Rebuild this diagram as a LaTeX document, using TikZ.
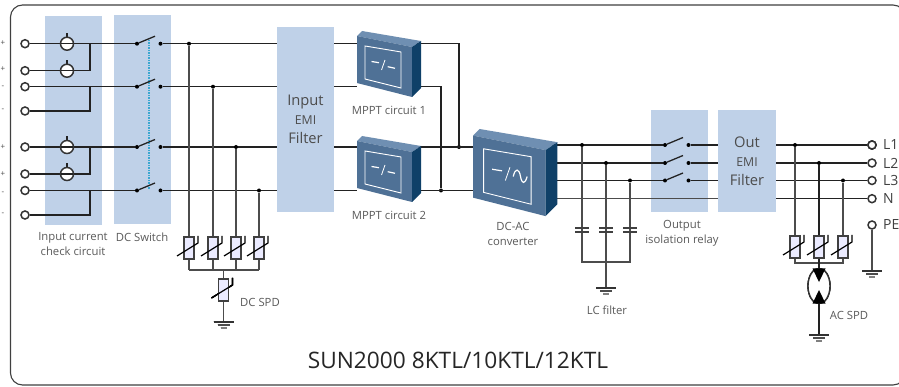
\documentclass[tikz,border=0pt]{standalone}
\usepackage{fontspec}
\setmainfont{Open Sans}
\usetikzlibrary{calc}
\definecolor{panelblue}{HTML}{BFD1E8}
\definecolor{boxface}{HTML}{4F7196}
\definecolor{boxside}{HTML}{0F4068}
\definecolor{boxtop}{HTML}{6F8FB2}
\definecolor{wirecol}{HTML}{222222}
\definecolor{textgray}{HTML}{5A5A5A}
\definecolor{dashblue}{HTML}{3AA6D0}
\tikzset{
    panel/.style = {fill=panelblue,draw=none,inner sep=0pt,align=center},
    wire/.style = {-,line width=1.3pt,wirecol},
    wireg/.style = {-,line width=1.5pt,black!70},
    term/.style = {circle,draw=black!80,line width=1.5pt,fill=white,minimum size=8pt,inner sep=0pt},
    dotn/.style = {circle,fill=black,minimum size=4pt,inner sep=0pt},
    lbl/.style = {font=\fontsize{11.3}{15}\selectfont,text=textgray,align=center,inner sep=0pt},
    portlbl/.style = {font=\fontsize{14}{14}\selectfont,text=black!75,inner sep=0pt,anchor=west},
    signlbl/.style = {font=\fontsize{8}{8}\selectfont,text=black!70,inner sep=0pt},
    filt/.style = {font=\fontsize{14.7}{19}\selectfont,text=black!70},
    glyph/.style = {white,line width=1.2pt},
    every picture/.style={x=1pt,y=-1pt}
}
\newcommand{\emifont}{\fontsize{12.3}{19}\selectfont}
% current sensor on a wire
\newcommand{\sensor}[2]{
\draw[wire] (#1,#2) -- (#1,#2-11);
\draw[line width=1.5pt,black!80,fill=white] (#1,#2) circle (6.5pt);
\draw[wire] (#1-6,#2) -- (#1+6,#2);
}
% switch contact pair
\newcommand{\switch}[3]{
\node[dotn] (#1a) at (#2,#3) {};
\node[dotn] (#1b) at (#2+23.5,#3) {};
\draw[wire] (#1a) -- (#2+18,#3-7.5);
}
% varistor
\newcommand{\varistor}[2]{
\draw[line width=1.2pt,black!75,fill=blue!8] (#1-5,#2-11) rectangle (#1+5,#2+11);
\draw[line width=1.2pt,black] (#1-12,#2+8) -- (#1+9,#2-5) -- (#1+9,#2-12);
}
% ground symbol
\newcommand{\earth}[2]{
\draw[line width=1.3pt,black!80] (#1-10,#2) -- (#1+10,#2);
\draw[line width=1.2pt,black!70] (#1-6,#2+3) -- (#1+6,#2+3);
\draw[line width=1.1pt,black!50] (#1-3,#2+6) -- (#1+3,#2+6);
}
% capacitor
\newcommand{\capa}[2]{
\draw[line width=1.5pt,black!75] (#1-7,#2-2) -- (#1+7,#2-2);
\draw[line width=1.5pt,black!75] (#1-7,#2+2) -- (#1+7,#2+2);
}
% 3d converter box: x, y, scale, last stroke of the sign
\newcommand{\convbox}[4]{
\begin{scope}[shift={(#1,#2)},scale=#3]
\fill[boxtop] (0,5) -- (5,0) -- (64,10) -- (55,16) -- cycle;
\fill[boxface] (0,5) -- (55,16) -- (55,66) -- (0,52) -- cycle;
\fill[boxside] (55,16) -- (64,10) -- (64,57) -- (55,66) -- cycle;
\draw[white,line width=0.9pt] (8,15) -- (44,21) -- (44,57) -- (8,48) -- cycle;
\draw[glyph] (14.5,30.5) -- (22,31.7);
\draw[glyph,line width=0.8pt] (24.5,39) -- (28,29);
\draw[glyph] #4;
\end{scope}
}
\begin{document}
\begin{tikzpicture}
\useasboundingbox (0,0) rectangle (899,387);
\draw[line width=1.1pt,black!75,rounded corners=12pt,fill=white] (10.5,5) rectangle (905,385);
% panels
\node[panel,minimum width=57pt,minimum height=209pt] (check) at (73.5,120.5) {};
\node[panel,minimum width=57pt,minimum height=209pt] (dcsw) at (142,119.5) {};
\node[panel,minimum width=57pt,minimum height=185pt,filt] (emiin) at (305.5,119.5) {Input\\{\emifont EMI}\\Filter};
\node[panel,minimum width=57pt,minimum height=102pt] (relay) at (679.5,161) {};
\node[panel,minimum width=58pt,minimum height=102pt,filt] (emiout) at (747,161) {Out\\{\emifont EMI}\\Filter};
% input terminals
\node[term] (i1) at (25,43.7) {};
\node[term] (i2) at (25,70.7) {};
\node[term] (i3) at (25,86.7) {};
\node[term] (i4) at (25,111) {};
\node[term] (i5) at (25,147) {};
\node[term] (i6) at (25,174) {};
\node[term] (i7) at (25,190.5) {};
\node[term] (i8) at (25,215) {};
\foreach \y/\t in {43/+,69/+,87/-,110/-,147/+,174/+,193/-,214/-}
    \node[signlbl] (s\y) at (3,\y) {\t};
% dc switch
\draw[dashblue,line width=1.5pt,densely dotted] (149,40) -- (149,190);
\switch{sa}{137}{43.7}
\switch{sb}{137}{86.7}
\switch{sc}{137}{147}
\switch{sd}{137}{190.5}
% input wiring
\draw[wire] (i1) -- (saa);
\draw[wire] (i2) -- (90,70.7) -- (90,43.7);
\draw[wire] (i3) -- (sba);
\draw[wire] (i4) -- (90,111) -- (90,86.7);
\draw[wire] (i5) -- (sca);
\draw[wire] (i6) -- (90,174) -- (90,147);
\draw[wire] (i7) -- (sda);
\draw[wire] (i8) -- (90,215) -- (90,190.5);
\sensor{67}{43.7}
\sensor{67}{70.7}
\sensor{67}{147}
\sensor{67}{174}
\draw[wire] (sab) -- (sab -| emiin.west);
\draw[wire] (sbb) -- (sbb -| emiin.west);
\draw[wire] (scb) -- (scb -| emiin.west);
\draw[wire] (sdb) -- (sdb -| emiin.west);
% dc spd
\node[dotn] (da) at (189,43.7) {};
\node[dotn] (db) at (213,86.7) {};
\node[dotn] (dc) at (236,147) {};
\node[dotn] (dd) at (259,190.5) {};
\draw[wireg] (da) -- (189,270);
\draw[wireg] (db) -- (213,270);
\draw[wireg] (dc) -- (236,270);
\draw[wireg] (dd) -- (259,270);
\draw[wireg] (189,270) -- (259,270);
\draw[wireg] (223.5,270) -- (223.5,322);
\foreach \x in {189,213,236,259}
    \varistor{\x}{248}
\varistor{223.5}{290}
\earth{223.5}{322}
% mppt outputs
\coordinate (ma) at (357,43.7);
\coordinate (mb) at (357,86.7);
\coordinate (mc) at (357,147);
\coordinate (md) at (357,190.5);
\node[dotn] (ja) at (459,147) {};
\node[dotn] (jb) at (441,190.5) {};
\draw[wire] (ma -| emiin.east) -- (ma);
\draw[wire] (mb -| emiin.east) -- (mb);
\draw[wire] (mc -| emiin.east) -- (mc);
\draw[wire] (md -| emiin.east) -- (md);
\draw[wire] (415,43.7) -| (ja);
\draw[wire] (415,86.7) -| (jb);
\draw[wire] (415,147) -- (480,147);
\draw[wire] (415,190.5) -- (480,190.5);
\convbox{357}{31}{1}{(30.7,35.7) -- (38,37.3)}
\convbox{357}{136}{1}{(30.7,35.7) -- (38,37.3)}
% ac bus
\switch{ra}{665}{145}
\switch{rb}{665}{163}
\switch{rc}{665}{180.5}
\draw[wire] (550,145) -- (raa);
\draw[wire] (550,163) -- (rba);
\draw[wire] (550,180.5) -- (rca);
\draw[wireg] (550,198.7) -- (emiout.west |- 0,198.7);
\draw[wire] (rab) -- (rab -| emiout.west);
\draw[wire] (rbb) -- (rbb -| emiout.west);
\draw[wire] (rcb) -- (rcb -| emiout.west);
\convbox{473}{129}{1.32}{(30.5,36) .. controls (32,29) and (35,30) .. (36,36) .. controls (37,42) and (39.5,42) .. (41,36)}
% lc filter
\node[dotn] (fa) at (582,145) {};
\node[dotn] (fb) at (606,163) {};
\node[dotn] (fc) at (630,180.5) {};
\draw[wireg] (fa) |- (630,262) -- (fc);
\draw[wireg] (fb) -- (606,288);
\foreach \x in {582,606,630}
    \capa{\x}{230}
\earth{606}{288}
% ac outputs
\node[term] (l1) at (872,145) {};
\node[term] (l2) at (872,163) {};
\node[term] (l3) at (872,180.5) {};
\node[term] (ln) at (872,198.7) {};
\node[term] (pe) at (872,225) {};
\node[portlbl] (tl1) at (883,145) {L1};
\node[portlbl] (tl2) at (883,163) {L2};
\node[portlbl] (tl3) at (883,180.5) {L3};
\node[portlbl] (tln) at (883,198.7) {N};
\node[portlbl] (tpe) at (883,225) {PE};
\draw[wire] (l1 -| emiout.east) -- (l1);
\draw[wire] (l2 -| emiout.east) -- (l2);
\draw[wire] (l3 -| emiout.east) -- (l3);
\draw[wire] (ln -| emiout.east) -- (ln);
\draw[wireg] (pe) -- (872,271);
\earth{872}{271}
% ac spd
\node[dotn] (aa) at (795,145) {};
\node[dotn] (ab) at (819,163) {};
\node[dotn] (ac) at (843,180.5) {};
\draw[wireg] (aa) |- (843,263) -- (ac);
\draw[wire] (ab) -- (819,335);
\foreach \x in {795,819,843}
    \varistor{\x}{247}
\draw[line width=1.4pt,black!80,fill=white] (819,286) ellipse (11pt and 17.5pt);
\fill[black] (812.5,268.5) -- (825.5,268.5) -- (819,282) -- cycle;
\fill[black] (812.5,303.5) -- (825.5,303.5) -- (819,290) -- cycle;
\earth{819}{335}
% captions
\node[lbl] (tcheck) at (73,244.5) {Input current\\check circuit};
\node[lbl] (tdcsw) at (142,237) {DC Switch};
\node[lbl] (tdcspd) at (260,302) {DC SPD};
\node[lbl] (tmppta) at (389,110) {MPPT circuit 1};
\node[lbl] (tmpptb) at (389,215) {MPPT circuit 2};
\node[lbl] (tconv) at (513,233.5) {DC-AC\\converter};
\node[lbl] (tlc) at (607,310) {LC filter};
\node[lbl] (trelay) at (682,233.5) {Output\\isolation relay};
\node[lbl] (tacspd) at (849,315) {AC SPD};
\node[font=\fontsize{22.7}{24}\selectfont,text=black!85,inner sep=0pt] (title) at (458,360) {SUN2000 8KTL/10KTL/12KTL};
\end{tikzpicture}
\end{document}
